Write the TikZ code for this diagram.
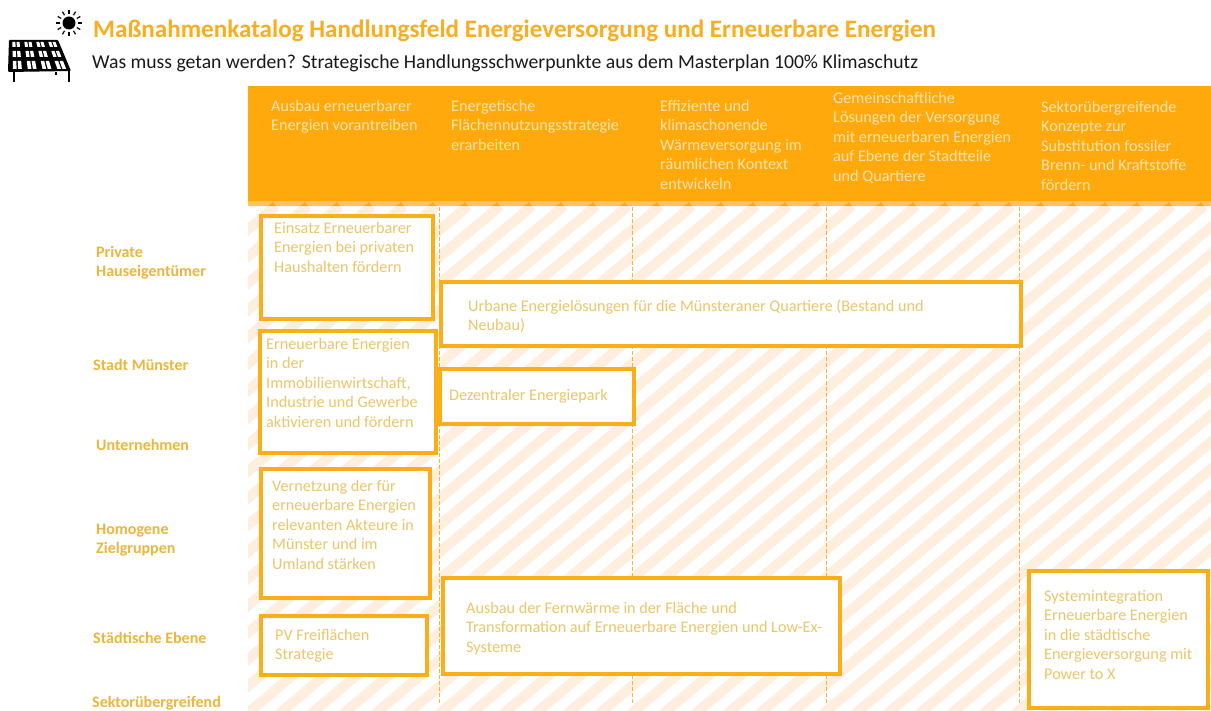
\documentclass[tikz,border=0pt]{standalone}
\usepackage{fontspec}
\setmainfont{Carlito}
\definecolor{hdr}{HTML}{FFA90D}
\definecolor{stripe}{HTML}{FDEEDD}
\definecolor{boxc}{HTML}{FBAE17}
\definecolor{pale}{HTML}{EBC66A}
\definecolor{lab}{HTML}{EDB63C}
\definecolor{ttl}{HTML}{F9AE1F}
\definecolor{hdrtxt}{HTML}{FFE3AC}
\tikzset{x=1pt,y=-1pt,
 btxt/.style={text=pale,anchor=north west,inner sep=0pt,align=left,font=\fontsize{16.2}{19.4}\selectfont},
 htxt/.style={text=hdrtxt,anchor=north west,inner sep=0pt,align=left,font=\fontsize{16.2}{19.4}\selectfont},
 rlab/.style={text=lab,anchor=north west,inner sep=0pt,align=left,font=\fontsize{16}{19.4}\selectfont\bfseries},
 sep/.style={draw=lab,line width=1pt,dash pattern=on 4pt off 2pt},
 mbox/.style={draw=boxc,line width=4pt,fill=white}}
\begin{document}
\begin{tikzpicture}
\useasboundingbox (0,0) rectangle (1211,711);
\fill[white] (0,0) rectangle (1211,711);
% stripes
\begin{scope}
\clip (248,200) rectangle (1211,711);
\foreach \i in {-20,...,50}
  \draw[stripe,line width=10pt] ({\i*32},760) -- ({\i*32+660},206);
\end{scope}
% header
\fill[hdr] (248,86) rectangle (1211,201);
\begin{scope}
\clip (248,201) rectangle (1211,206);
\fill[hdr!70!white] (248,201) rectangle (1211,206);
\foreach \i in {-20,...,50}
  \draw[hdr,line width=10pt] ({\i*32},760) -- ({\i*32+660},206);
\end{scope}
% separators
\coordinate (s1a) at (439,207);\coordinate (s1b) at (439,704);
\coordinate (s2a) at (632,207);\coordinate (s2b) at (632,704);
\coordinate (s3a) at (826,207);\coordinate (s3b) at (826,704);
\coordinate (s4a) at (1019,207);\coordinate (s4b) at (1019,704);
\draw[sep] (s1a)--(s1b); \draw[sep] (s2a)--(s2b); \draw[sep] (s3a)--(s3b); \draw[sep] (s4a)--(s4b);
% title
\node[anchor=west,inner sep=0pt,text=ttl,font=\fontsize{25.1}{28}\selectfont\bfseries] (title) at (93,31) {Maßnahmenkatalog Handlungsfeld Energieversorgung und Erneuerbare Energien};
\node[anchor=west,inner sep=0pt,text=black!90,font=\fontsize{19.7}{22}\selectfont] (sub) at (92,63) {Was muss getan werden? Strategische Handlungsschwerpunkte aus dem Masterplan 100\% Klimaschutz};
% headers
\node[htxt] (h1) at (271,100) {Ausbau erneuerbarer\\Energien vorantreiben};
\node[htxt] (h2) at (451,100) {Energetische\\Flächennutzungsstrategie\\erarbeiten};
\node[htxt] (h3) at (660,100) {Effiziente und\\klimaschonende\\Wärmeversorgung im\\räumlichen Kontext\\entwickeln};
\node[htxt] (h4) at (833,92) {Gemeinschaftliche\\Lösungen der Versorgung\\mit erneuerbaren Energien\\auf Ebene der Stadtteile\\und Quartiere};
\node[htxt] (h5) at (1041,101) {Sektorübergreifende\\Konzepte zur\\Substitution fossiler\\Brenn- und Kraftstoffe\\fördern};
% row labels
\node[rlab] (r1) at (96,246) {Private\\Hauseigentümer};
\node[rlab] (r2) at (93,359) {Stadt Münster};
\node[rlab] (r3) at (96,439) {Unternehmen};
\node[rlab] (r4) at (96,524) {Homogene\\Zielgruppen};
\node[rlab] (r5) at (93,632) {Städtische Ebene};
\node[rlab] (r6) at (92,696) {Sektorübergreifend};
% boxes
\draw[mbox] (261,216) rectangle (433,319);
\node[btxt] (b1) at (274,222) {Einsatz Erneuerbarer\\Energien bei privaten\\Haushalten fördern};
\draw[mbox] (260,331) rectangle (436,453);
\node[btxt] (b2) at (266,338) {Erneuerbare Energien\\in der\\Immobilienwirtschaft,\\Industrie und Gewerbe\\aktivieren und fördern};
\draw[mbox] (441,282) rectangle (1021,346);
\node[btxt] (b3) at (468,299) {Urbane Energielösungen für die Münsteraner Quartiere (Bestand und\\Neubau)};
\draw[mbox] (440,369) rectangle (634,424);
\node[btxt] (b4) at (449,389) {Dezentraler Energiepark};
\draw[mbox] (261,469) rectangle (430,598);
\node[btxt] (b5) at (272,480) {Vernetzung der für\\erneuerbare Energien\\relevanten Akteure in\\Münster und im\\Umland stärken};
\draw[mbox] (261,616) rectangle (427,675);
\node[btxt] (b6) at (275,629) {PV Freiflächen\\Strategie};
\draw[mbox] (443,578) rectangle (840,674);
\node[btxt] (b7) at (466,602) {Ausbau der Fernwärme in der Fläche und\\Transformation auf Erneuerbare Energien und Low-Ex-\\Systeme};
\draw[mbox] (1029,571) rectangle (1208,708);
\node[btxt] (b8) at (1044,590) {Systemintegration\\Erneuerbare Energien\\in die städtische\\Energieversorgung mit\\Power to X};
% icon: sun
\fill[black] (69,23) circle (6.5);
\foreach \a in {0,30,...,330}
  \draw[black,line width=1.2pt] (69,23) ++(\a:9) -- ++(\a:4);
% icon: panel
\fill[black,rounded corners=1pt] (9,40) -- (58,40) -- (71,71) -- (8,72) -- cycle;
\draw[black,line width=1.3pt] (14,72) -- (14,82) (69,71) -- (69,82) (56,72) -- (56,75);
\foreach \yt/\yb in {42/47, 51/57, 61/69}{
  \foreach \c in {0,...,3}{
    \foreach \k in {0.2,0.55}{
      \fill[white]
       ({10+(58+(\yt-40)*0.42-11)*(\c+\k)/4},\yt) --
       ({10+(58+(\yt-40)*0.42-11)*(\c+\k+0.25)/4},\yt) --
       ({10+(58+(\yb-40)*0.42-11)*(\c+\k+0.25)/4},\yb) --
       ({10+(58+(\yb-40)*0.42-11)*(\c+\k)/4},\yb) -- cycle;
    }
  }
}
\end{tikzpicture}
\end{document}
